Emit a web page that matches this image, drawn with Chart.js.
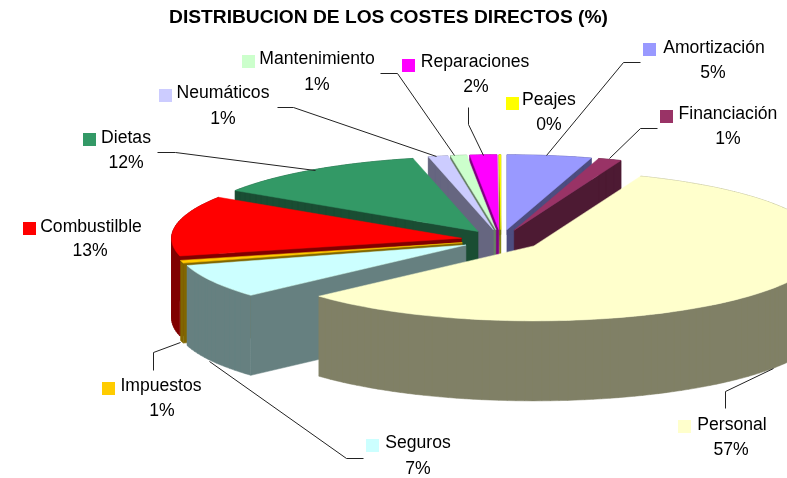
<!DOCTYPE html>
<html><head><meta charset="utf-8">
<style>html,body{margin:0;padding:0;background:#fff}canvas{display:block}</style>
<script src="https://cdn.jsdelivr.net/npm/chart.js@4/dist/chart.umd.min.js"></script>
</head><body><canvas id="c" width="787" height="478"></canvas>
<script>
const categories = ["Amortización","Financiación","Personal","Seguros","Impuestos","Combustilble","Dietas","Neumáticos","Mantenimiento","Reparaciones","Peajes"];
const values = [4.7,1.3,57.3,7.3,0.6,13,12.2,1.1,0.9,1.5,0.1];
const colors = ["#9999FF","#993366","#FFFFCC","#CCFFFF","#FFCC00","#FF0000","#339966","#CCCCFF","#CCFFCC","#FF00FF","#FFFF00"];
const walls = ["#4D4D80","#4D1A33","#808066","#668080","#806600","#800000","#1A4D33","#666680","#668066","#800080","#808000"];
const paintOrder = [0,1,10,9,8,7,6,5,4,3,2];
const view = {cx:501, cy:240, rx:290, ry:75, depth:80};
const labelFont = '17.6px "Liberation Sans", Arial, sans-serif';
// label layout: name centre x/y, percentage centre x/y, key left/top, leader polyline
const labelLayout = [
 {nx:714,ny:48,px:713,py:73,kx:643,ky:43,lead:[[640,62],[623,62],[546,155]]},
 {nx:728,ny:114,px:728,py:139,kx:660,ky:110,lead:[[657,128],[640,128],[609,158]]},
 {nx:732,ny:425,px:731,py:450,kx:678,ky:420,lead:[[725,408],[725,391],[773,368]]},
 {nx:418,ny:443,px:418,py:469,kx:366,ky:439,lead:[[363,458],[346,458],[209,361]]},
 {nx:161,ny:386,px:162,py:411,kx:102,ky:382,lead:[[153,370],[153,352],[180,342]]},
 {nx:91,ny:227,px:90,py:251,kx:23,ky:222,lead:null},
 {nx:126,ny:138,px:126,py:163,kx:83,ky:133,lead:[[157,152],[175,152],[315,170]]},
 {nx:223,ny:93,px:223,py:119,kx:159,ky:89,lead:[[277,107],[293,107],[436,156]]},
 {nx:317,ny:59,px:317,py:85,kx:242,ky:55,lead:[[380,73],[397,73],[454,155]]},
 {nx:475,ny:62,px:476,py:87,kx:402,ky:59,lead:[[468,107],[468,124],[483,155]]},
 {nx:549,ny:100,px:549,py:125,kx:506,ky:97,lead:null}
];

function signedArea(pts){
  let s = 0;
  pts.forEach((p,i)=>{ const q = pts[(i+1)%pts.length]; s += p[0]*q[1]-q[0]*p[1]; });
  return s;
}
function polys(ctx, list, fill){
  ctx.beginPath();
  list.forEach(raw=>{
    // same winding for every piece, so overlaps add up instead of cancelling
    const pts = signedArea(raw) < 0 ? raw.slice().reverse() : raw;
    pts.forEach((p,i)=> i ? ctx.lineTo(p[0],p[1]) : ctx.moveTo(p[0],p[1]));
    ctx.closePath();
  });
  ctx.fillStyle = fill; ctx.fill();
  ctx.strokeStyle = fill; ctx.lineWidth = 0.5; ctx.stroke();
}
const pie3d = {
  id:'pie3d',
  beforeDatasetsDraw(chart){
    const ctx = chart.ctx, arcs = chart.getDatasetMeta(0).data;
    paintOrder.forEach(i=>{
      const a = arcs[i], R = a.outerRadius, mid = (a.startAngle+a.endAngle)/2;
      const ex = a.options.offset / R;
      const P = (r,t)=>[view.cx + (Math.cos(mid)*ex + r*Math.cos(t))*view.rx,
                        view.cy + (Math.sin(mid)*ex + r*Math.sin(t))*view.ry];
      const down = p=>[p[0],p[1]+view.depth];
      const n = Math.max(2,Math.ceil((a.endAngle-a.startAngle)/0.03));
      const rim = [];
      for(let k=0;k<=n;k++) rim.push(P(1,a.startAngle+(a.endAngle-a.startAngle)*k/n));
      const apex = P(0,0);
      // cut faces that look towards the viewer
      if(Math.cos(a.startAngle) < -1e-6) polys(ctx,[[apex,rim[0],down(rim[0]),down(apex)]],walls[i]);
      if(Math.cos(a.endAngle) > 1e-6) polys(ctx,[[apex,rim[n],down(rim[n]),down(apex)]],walls[i]);
      // outer rim: one closed path per slice, so steps leave no seams
      const quads = [];
      for(let k=0;k<n;k++) quads.push([rim[k],rim[k+1],down(rim[k+1]),down(rim[k])]);
      polys(ctx,quads,walls[i]);
      // top face
      polys(ctx,[[apex].concat(rim)],colors[i]);
    });
    return false;
  },
  afterDraw(chart){
    const ctx = chart.ctx;
    ctx.save();
    ctx.font = labelFont; ctx.textAlign='center'; ctx.textBaseline='middle';
    const total = values.reduce((s,v)=>s+v,0);
    labelLayout.forEach((l,i)=>{
      if(l.lead){
        ctx.beginPath();
        l.lead.forEach((p,k)=> k?ctx.lineTo(p[0]+.5,p[1]+.5):ctx.moveTo(p[0]+.5,p[1]+.5));
        ctx.strokeStyle='#222'; ctx.lineWidth=1; ctx.stroke();
      }
      ctx.fillStyle = colors[i]; ctx.fillRect(l.kx,l.ky,13,13);
      ctx.fillStyle = '#000';
      ctx.fillText(categories[i],l.nx,l.ny);
      ctx.fillText(Math.round(values[i]/total*100)+'%',l.px,l.py);
    });
    ctx.restore();
  }
};
new Chart(document.getElementById('c'),{
  type:'pie',
  data:{labels:categories,datasets:[{data:values,backgroundColor:colors,borderWidth:0,offset:29}]},
  options:{
    responsive:false,animation:false,
    layout:{padding:{right:10}},
    plugins:{
      legend:{display:false},tooltip:{enabled:false},
      title:{display:true,text:'DISTRIBUCION DE LOS COSTES DIRECTOS (%)',color:'#000',
        font:{family:'"Liberation Sans", Arial, sans-serif',size:19.2,weight:'bold'},padding:{top:6,bottom:0}}
    }
  },
  plugins:[pie3d]
});
</script></body></html>
